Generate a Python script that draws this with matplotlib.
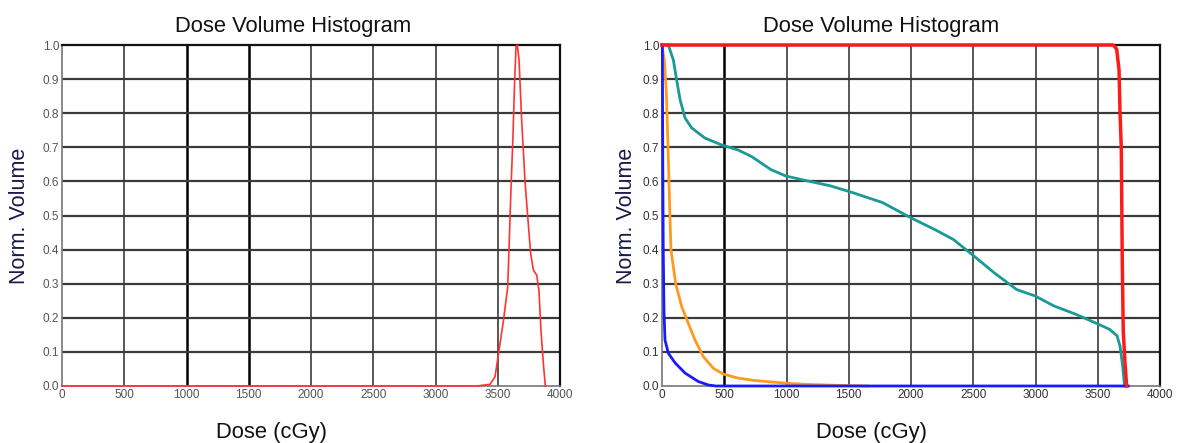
import matplotlib
matplotlib.use("Agg")
import matplotlib.pyplot as plt

plt.rcParams['font.family'] = ['Liberation Sans', 'DejaVu Sans']

# ---- data ----
xticks = [0, 500, 1000, 1500, 2000, 2500, 3000, 3500, 4000]
yticks = [0.0, 0.1, 0.2, 0.3, 0.4, 0.5, 0.6, 0.7, 0.8, 0.9, 1.0]

# left: differential DVH (red)
diff_dose = [0, 3331, 3438, 3478, 3507, 3545, 3580, 3593, 3606, 3622, 3636, 3647,
             3657, 3671, 3692, 3719, 3740, 3764, 3786, 3813, 3831, 3847, 3866, 3882]
diff_vol = [0.0, 0.0, 0.005, 0.027, 0.097, 0.19, 0.29, 0.43, 0.575, 0.73, 0.90, 0.995,
            1.0, 0.956, 0.78, 0.60, 0.50, 0.39, 0.34, 0.325, 0.28, 0.164, 0.067, 0.0]

# right: cumulative DVHs
red_dose = [0, 3625, 3652, 3671, 3679, 3689, 3697, 3705, 3719, 3732]
red_vol = [1.0, 1.0, 0.988, 0.927, 0.80, 0.70, 0.36, 0.16, 0.067, 0.0]

teal_dose = [0, 51, 91, 118, 145, 185, 238, 345, 478, 612, 719, 873, 993, 1173, 1352,
             1532, 1771, 1995, 2190, 2339, 2489, 2668, 2848, 2997, 3147, 3326, 3476,
             3596, 3655, 3679, 3700, 3715]
teal_vol = [1.0, 1.0, 0.956, 0.897, 0.84, 0.786, 0.757, 0.727, 0.707, 0.692, 0.673,
            0.635, 0.616, 0.601, 0.587, 0.567, 0.538, 0.494, 0.459, 0.430, 0.386, 0.332,
            0.283, 0.264, 0.235, 0.210, 0.186, 0.166, 0.147, 0.117, 0.059, 0.0]

orange_dose = [0, 20, 35, 50, 64, 72, 110, 158, 211, 265, 332, 412, 493, 612, 747,
               1001, 1143, 1400, 1650]
orange_vol = [1.0, 0.95, 0.86, 0.68, 0.496, 0.40, 0.30, 0.233, 0.184, 0.135, 0.086,
              0.052, 0.035, 0.023, 0.016, 0.008, 0.005, 0.002, 0.0]

blue_dose = [0, 3, 6, 10, 16, 24, 51, 107, 185, 292, 372, 430, 3745]
blue_vol = [1.0, 1.0, 0.66, 0.40, 0.22, 0.135, 0.096, 0.067, 0.038, 0.013, 0.003, 0.0, 0.0]

W, H = 1184, 443
fig = plt.figure(figsize=(W / 100, H / 100), dpi=100)
AX_W, AX_H = 498, 341

def style_axes(ax, dark_x, title_x, xlabel_x, ylabel_dx, tick_color):
    ax.set_xlim(0, 4000)
    ax.set_ylim(0, 1.0)
    ax.set_xticks(xticks)
    ax.set_yticks(yticks)
    ax.set_xticklabels([str(v) for v in xticks])
    ax.set_yticklabels([f"{v:.1f}" for v in yticks])
    ax.tick_params(length=0, labelsize=8.5, colors=tick_color, pad=2)
    for v in xticks[1:-1]:
        if v in dark_x:
            ax.axvline(v, color='#000000', lw=1.8, zorder=1)
        else:
            ax.axvline(v, color='#4a4a4a', lw=1.3, zorder=1)
    for v in yticks[1:-1]:
        ax.axhline(v, color='#3a3a3a', lw=1.6, zorder=1)
    for s in ['top', 'right']:
        ax.spines[s].set_color('#111111')
        ax.spines[s].set_linewidth(1.6)
    for s in ['left', 'bottom']:
        ax.spines[s].set_color('#777777')
        ax.spines[s].set_linewidth(1.2)
    ax.text(title_x, (386 - 32) / AX_H, "Dose Volume Histogram", transform=ax.transAxes,
            ha='center', va='baseline', fontsize=15.8, color='#111111')
    ax.text(xlabel_x, (386 - 438) / AX_H, "Dose (cGy)", transform=ax.transAxes,
            ha='center', va='baseline', fontsize=15.8, color='#111111')
    ax.text(ylabel_dx / AX_W, 0.5, "Norm. Volume", transform=ax.transAxes, rotation=90,
            ha='center', va='center', fontsize=15.5, color='#1a1a4a')

# left panel
ax1 = fig.add_axes([62 / W, (H - 386) / H, AX_W / W, AX_H / H])
style_axes(ax1, [1000, 1500], (293 - 62) / AX_W, (271 - 62) / AX_W, -42, '#555555')
ax1.plot(diff_dose, diff_vol, color='#ff3333', lw=1.2, zorder=3, clip_on=False)

# right panel
ax2 = fig.add_axes([662 / W, (H - 386) / H, AX_W / W, AX_H / H])
style_axes(ax2, [500], (881 - 662) / AX_W, (872 - 662) / AX_W, -35, '#333333')
ax2.plot(teal_dose, teal_vol, color='#1a9a96', lw=2.0, zorder=3, clip_on=False)
ax2.plot(orange_dose, orange_vol, color='#ff9a1f', lw=2.0, zorder=4, clip_on=False)
ax2.plot(blue_dose, blue_vol, color='#1a1aff', lw=2.0, zorder=5, clip_on=False)
ax2.plot(red_dose, red_vol, color='#ff1a1a', lw=2.5, zorder=6, clip_on=False)

fig.savefig("out.png", dpi=100)
